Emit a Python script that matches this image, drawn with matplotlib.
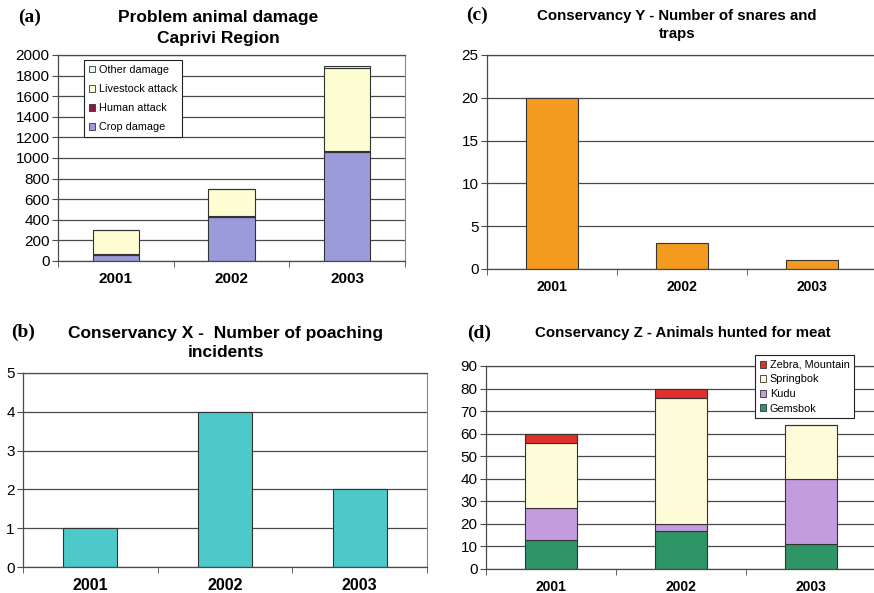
import numpy as np
import matplotlib
matplotlib.use('Agg')
import matplotlib.pyplot as plt
from matplotlib.patches import Patch

plt.rcParams['font.family'] = ['Liberation Sans', 'DejaVu Sans']

years = ['2001', '2002', '2003']

# (a) problem animal damage, Caprivi
crop_damage = [55, 425, 1060]
human_attack = [8, 10, 12]
livestock_attack = [242, 260, 800]
other_damage = [0, 0, 20]

# (b) poaching incidents
poaching = [1, 4, 2]

# (c) snares and traps
snares = [20, 3, 1]

# (d) animals hunted for meat
gemsbok = [13, 17, 11]
kudu = [14, 3, 29]
springbok = [29, 56, 24]
zebra = [4, 4, 0]

EDGE = '#333333'
GRID = '#4a4a4a'


def style_axes(ax, ymax, ystep, ytick_size, xtick_size, right_spine=True):
    x = np.arange(len(years))
    ax.set_xlim(-0.5, len(years) - 0.5)
    ax.set_ylim(0, ymax)
    ax.set_yticks(np.arange(0, ymax + ystep / 2, ystep))
    ax.set_xticks(x)
    ax.set_xticklabels(years, fontweight='bold', fontsize=xtick_size)
    ax.set_xticks(np.arange(-0.5, len(years)), minor=True)
    ax.tick_params(axis='x', which='major', length=0, pad=8)
    ax.tick_params(axis='x', which='minor', length=4, direction='out', color=GRID)
    ax.tick_params(axis='y', length=4, direction='out', color=GRID,
                   labelsize=ytick_size, pad=2)
    ax.grid(axis='y', color=GRID, linewidth=0.9)
    ax.set_axisbelow(True)
    for side in ['left', 'bottom', 'top']:
        ax.spines[side].set_color(GRID)
        ax.spines[side].set_linewidth(0.9)
    ax.spines['right'].set_visible(right_spine)
    ax.spines['right'].set_color('#888888')


def stacked(ax, series, colors):
    x = np.arange(len(years))
    bottom = np.zeros(len(years))
    for vals, col in zip(series, colors):
        ax.bar(x, vals, width=0.4, bottom=bottom, color=col,
               edgecolor=EDGE, linewidth=0.8)
        bottom += np.array(vals)


def legend(ax, labels, colors, anchor, spacing):
    handles = [Patch(facecolor=c, edgecolor=EDGE, linewidth=0.6) for c in colors]
    leg = ax.legend(handles, labels, loc='upper left', bbox_to_anchor=anchor,
                    fontsize=7.8, frameon=True, fancybox=False, framealpha=1,
                    handlelength=0.6, handleheight=0.6, handletextpad=0.3,
                    labelspacing=spacing, borderpad=0.45, borderaxespad=0)
    leg.get_frame().set_edgecolor('#222222')
    leg.get_frame().set_linewidth(0.8)


fig = plt.figure(figsize=(8.74, 5.93), dpi=100)

# (a)
ax_a = fig.add_axes([0.0664, 0.5599, 0.397, 0.3474])
stacked(ax_a, [crop_damage, human_attack, livestock_attack, other_damage],
        ['#9b9bdb', '#8b1a3a', '#fdfcd2', '#e2f6f6'])
style_axes(ax_a, 2000, 200, 11, 11)
legend(ax_a, ['Other damage', 'Livestock attack', 'Human attack', 'Crop damage'],
       ['#e2f6f6', '#fdfcd2', '#8b1a3a', '#9b9bdb'], (0.075, 0.976), 0.85)

# (c)
ax_c = fig.add_axes([0.5572, 0.5464, 0.4462, 0.3609])
ax_c.bar(np.arange(len(years)), snares, width=0.4, color='#f39a1f',
         edgecolor=EDGE, linewidth=0.8)
style_axes(ax_c, 25, 5, 11, 10, right_spine=False)

# (b)
ax_b = fig.add_axes([0.0263, 0.0438, 0.4622, 0.3272])
ax_b.bar(np.arange(len(years)), poaching, width=0.4, color='#4ec9c9',
         edgecolor=EDGE, linewidth=0.8)
style_axes(ax_b, 5, 1, 11, 11.5)

# (d)
ax_d = fig.add_axes([0.556, 0.0405, 0.4462, 0.3423])
stacked(ax_d, [gemsbok, kudu, springbok, zebra],
        ['#2f9466', '#c39ce0', '#fdfbd8', '#e0302a'])
style_axes(ax_d, 90, 10, 11, 10, right_spine=False)
legend(ax_d, ['Zebra, Mountain', 'Springbok', 'Kudu', 'Gemsbok'],
       ['#e0302a', '#fdfbd8', '#c39ce0', '#2f9466'], (0.69, 1.054), 0.42)

# titles and panel letters
fig.text(218 / 874, 1 - 28 / 593, 'Problem animal damage\nCaprivi Region', ha='center',
         va='center', fontsize=12.5, fontweight='bold', linespacing=1.45)
fig.text(677 / 874, 1 - 25 / 593, 'Conservancy Y - Number of snares and\ntraps', ha='center',
         va='center', fontsize=10.8, fontweight='bold', linespacing=1.45)
fig.text(226 / 874, 1 - 343 / 593, 'Conservancy X -  Number of poaching\nincidents', ha='center',
         va='center', fontsize=12.5, fontweight='bold', linespacing=1.4)
fig.text(683 / 874, 1 - 333 / 593, 'Conservancy Z - Animals hunted for meat', ha='center',
         va='center', fontsize=10.8, fontweight='bold')

serif = ['Liberation Serif', 'DejaVu Serif']
fig.text(30 / 874, 1 - 17 / 593, '(a)', ha='center', va='center', fontsize=14,
         fontweight='bold', family=serif)
fig.text(477 / 874, 1 - 15 / 593, '(c)', ha='center', va='center', fontsize=14,
         fontweight='bold', family=serif)
fig.text(23 / 874, 1 - 332 / 593, '(b)', ha='center', va='center', fontsize=14,
         fontweight='bold', family=serif)
fig.text(479 / 874, 1 - 333 / 593, '(d)', ha='center', va='center', fontsize=14,
         fontweight='bold', family=serif)

fig.savefig('out.png', dpi=100)
